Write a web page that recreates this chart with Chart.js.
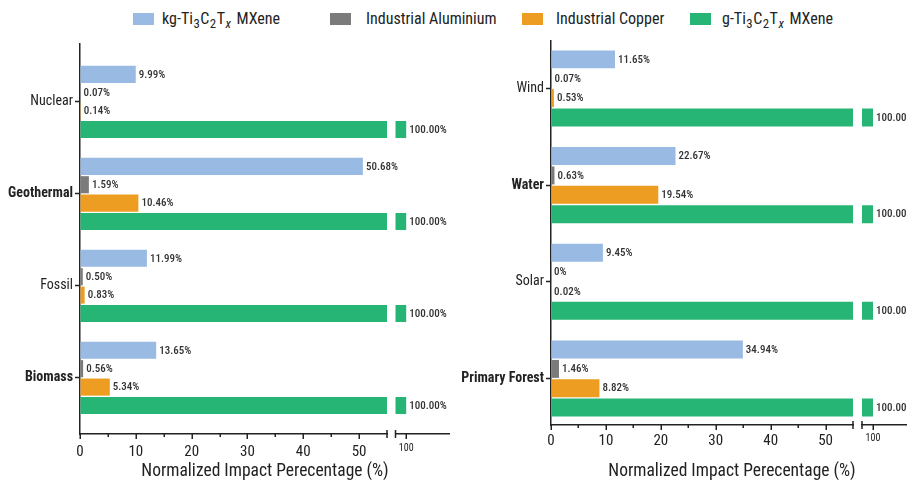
<!DOCTYPE html>
<html>
<head>
<meta charset="utf-8">
<script src="https://cdn.jsdelivr.net/npm/chart.js@4.4.1/dist/chart.umd.min.js"></script>
<style>
  html, body { margin: 0; padding: 0; background: #fff; overflow: hidden; }
  body { width: 907px; height: 481px; position: relative; color: #222;
         font-family: "Roboto", sans-serif; font-stretch: 75%; }
  canvas { position: absolute; top: 0; }
  .sw { position: absolute; top: 13px; width: 21px; height: 12px; }
  .tx { position: absolute; top: 9px; font-size: 16px; line-height: 20px; white-space: nowrap; }
  sub { font-size: 0.8em; vertical-align: -0.3em; line-height: 0; margin: 0 0.5px; }
  .mx { margin-left: 5px; }
  .xtitle { position: absolute; top: 459px; width: 400px; text-align: center;
            font-size: 17.5px; line-height: 22px; white-space: nowrap; }
</style>
</head>
<body>
<div class="legend">
  <span class="sw" style="left:133px;background:#98bae3"></span>
  <span class="tx" style="left:162px">kg-Ti<sub>3</sub>C<sub>2</sub>T<sub><i>x</i></sub><span class="mx">MXene</span></span>
  <span class="sw" style="left:330px;background:#7b7b7b"></span>
  <span class="tx" style="left:366px">Industrial Aluminium</span>
  <span class="sw" style="left:522px;background:#ec9d22"></span>
  <span class="tx" style="left:556px">Industrial Copper</span>
  <span class="sw" style="left:690px;background:#27b576"></span>
  <span class="tx" style="left:722px">g-Ti<sub>3</sub>C<sub>2</sub>T<sub><i>x</i></sub><span class="mx">MXene</span></span>
</div>

<canvas id="leftMain" width="400" height="481" style="left:0px"></canvas>
<canvas id="leftUpper" width="80" height="481" style="left:390px"></canvas>
<canvas id="rightMain" width="400" height="481" style="left:460px"></canvas>
<canvas id="rightUpper" width="80" height="481" style="left:856px"></canvas>

<div class="xtitle" style="left:65px">Normalized Impact Perecentage (%)</div>
<div class="xtitle" style="left:532px">Normalized Impact Perecentage (%)</div>

<script>
// values in % (normalized to g-Ti3C2Tx MXene = 100)
const leftCategories = ['Nuclear', 'Geothermal', 'Fossil', 'Biomass'];
const leftKgMxene    = [9.99, 50.68, 11.99, 13.65];
const leftAluminium  = [0.07, 1.59, 0.50, 0.56];
const leftCopper     = [0.14, 10.46, 0.83, 5.34];
const leftGMxene     = [100, 100, 100, 100];

const rightCategories = ['Wind', 'Water', 'Solar', 'Primary Forest'];
const rightKgMxene    = [11.65, 22.67, 9.45, 34.94];
const rightAluminium  = [0.07, 0.63, 0, 1.46];
const rightCopper     = [0.53, 19.54, 0.02, 8.82];
const rightGMxene     = [100, 100, 100, 100];

const seriesNames = ['kg-Ti3C2Tx MXene', 'Industrial Aluminium', 'Industrial Copper', 'g-Ti3C2Tx MXene'];
const xTicksMain  = [0, 5, 10, 15, 20, 25, 30, 35, 40, 45, 50];
const xTicksUpper = [100];

const seriesColors = ['#98bae3', '#7b7b7b', '#ec9d22', '#27b576'];
const FONT = '"Roboto", sans-serif';
const INK = '#222';
const boldRows = [false, true, false, true];

function fmt(v) {
  return v === 0 ? '0%' : v.toFixed(2) + '%';
}

// value labels, minor/major x ticks and the axis-break caps
const decor = {
  id: 'decor',
  afterDatasetsDraw(chart, args, o) {
    const ctx = chart.ctx;
    ctx.save();
    ctx.font = '500 condensed 11px ' + FONT;
    ctx.fillStyle = '#333';
    ctx.textBaseline = 'middle';
    o.labelled.forEach(i => {
      const meta = chart.getDatasetMeta(i);
      meta.data.forEach((bar, j) => {
        const v = chart.data.datasets[i].data[j].x;
        ctx.fillText(fmt(v), bar.x + 3, bar.y + 0.5);
      });
    });
    ctx.restore();
  },
  afterDraw(chart, args, o) {
    const { ctx, chartArea: a } = chart;
    const x = chart.scales.x;
    ctx.save();
    ctx.strokeStyle = INK;
    ctx.lineWidth = 1.5;
    ctx.beginPath();
    x.ticks.forEach(t => {
      if (t.value >= x.max) return;
      const px = Math.round(x.getPixelForValue(t.value)) + 0.25;
      const len = t.value % 10 === 0 ? 5 : 3;
      ctx.moveTo(px, a.bottom);
      ctx.lineTo(px, a.bottom + len);
    });
    const capX = o.cap === 'right' ? a.right : a.left;
    ctx.moveTo(capX, a.bottom - 4);
    ctx.lineTo(capX, a.bottom + 4);
    ctx.stroke();
    ctx.restore();
  }
};

function buildChart(id, cfg) {
  const datasets = cfg.series.map((arr, i) => ({
    label: seriesNames[i],
    data: arr.map((v, j) => ({ x: v, y: j })),
    backgroundColor: seriesColors[i],
    categoryPercentage: 0.8,
    barPercentage: 0.93,
    clip: 0
  }));

  return new Chart(document.getElementById(id), {
    type: 'bar',
    data: { datasets },
    options: {
      indexAxis: 'y',
      responsive: false,
      animation: false,
      events: [],
      layout: { padding: cfg.padding },
      scales: {
        x: {
          type: 'linear',
          min: cfg.xMin,
          max: cfg.xMax,
          afterBuildTicks: s => { s.ticks = cfg.ticks.map(v => ({ value: v })); },
          afterFit: s => { s.height = cfg.xHeight; },
          grid: { drawOnChartArea: false, drawTicks: false },
          border: { color: INK, width: 1.5 },
          ticks: {
            autoSkip: false,
            maxRotation: 0,
            padding: cfg.tickPad,
            color: INK,
            font: { family: FONT, size: cfg.tickSize, weight: 'normal condensed' },
            callback: v => (v % 10 === 0 ? String(v) : '')
          }
        },
        y: {
          type: 'linear',
          reverse: true,
          offset: false,
          min: cfg.yMin,
          max: cfg.yMax,
          display: cfg.showY,
          afterFit: s => { s.width = cfg.yWidth || 0; },
          grid: { offset: false, drawOnChartArea: false, tickLength: 5, tickColor: INK, tickWidth: 1.5 },
          border: { color: INK, width: 1.5 },
          ticks: {
            stepSize: 1,
            includeBounds: false,
            autoSkip: false,
            padding: 2,
            color: INK,
            font: c => ({
              family: FONT,
              size: 14,
              weight: boldRows[c.tick && c.tick.value] ? 'bold condensed' : 'normal condensed'
            }),
            callback: v => (Number.isInteger(v) ? cfg.categories[v] : '')
          }
        }
      },
      plugins: {
        legend: { display: false },
        tooltip: { enabled: false },
        decor: { labelled: cfg.labelled, cap: cfg.cap }
      }
    },
    plugins: [decor]
  });
}

const leftSeries = [leftKgMxene, leftAluminium, leftCopper, leftGMxene];
const rightSeries = [rightKgMxene, rightAluminium, rightCopper, rightGMxene];

buildChart('leftMain', {
  series: leftSeries, categories: leftCategories, showY: true, yWidth: 80,
  xMin: 0, xMax: 55, ticks: xTicksMain, tickSize: 15, tickPad: 9, xHeight: 47,
  yMin: -0.63, yMax: 3.61, padding: { top: 44, right: 13, left: 0, bottom: 0 },
  labelled: [0, 1, 2], cap: 'right'
});
buildChart('leftUpper', {
  series: leftSeries, categories: leftCategories, showY: false,
  xMin: 98, xMax: 108, ticks: xTicksUpper, tickSize: 10, tickPad: 8, xHeight: 47,
  yMin: -0.63, yMax: 3.61, padding: { top: 44, right: 21, left: 4, bottom: 0 },
  labelled: [3], cap: 'left'
});
buildChart('rightMain', {
  series: rightSeries, categories: rightCategories, showY: true, yWidth: 91,
  xMin: 0, xMax: 55, ticks: xTicksMain, tickSize: 15, tickPad: 7, xHeight: 56,
  yMin: -0.49, yMax: 3.48, padding: { top: 41, right: 7, left: 0, bottom: 0 },
  labelled: [0, 1, 2], cap: 'right'
});
buildChart('rightUpper', {
  series: rightSeries, categories: rightCategories, showY: false,
  xMin: 98, xMax: 108, ticks: xTicksUpper, tickSize: 10, tickPad: 7, xHeight: 56,
  yMin: -0.49, yMax: 3.48, padding: { top: 41, right: 19, left: 6, bottom: 0 },
  labelled: [3], cap: 'left'
});
</script>
</body>
</html>
